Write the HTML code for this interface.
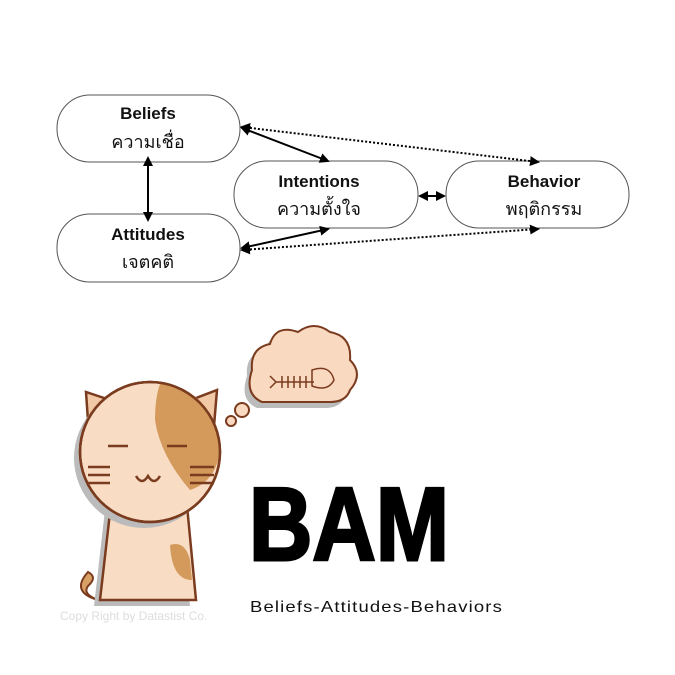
<!DOCTYPE html>
<html><head><meta charset="utf-8"><style>
html,body{margin:0;padding:0;background:#fff}
svg{display:block}
</style></head><body>
<svg width="675" height="675" viewBox="0 0 675 675" xmlns="http://www.w3.org/2000/svg" font-family="'Liberation Sans','Noto Sans CJK SC',sans-serif">
<defs>
<marker id="a" viewBox="0 0 10 10" refX="8" refY="5" markerWidth="5" markerHeight="5" orient="auto-start-reverse"><path d="M0,0 L10,5 L0,10 z" fill="#000"/></marker>
</defs>
<g fill="#fff" stroke="#555" stroke-width="1">
<rect x="57" y="95" width="183" height="67" rx="33"/>
<rect x="57" y="214" width="183" height="68" rx="33"/>
<rect x="234" y="161" width="184" height="67" rx="33"/>
<rect x="446" y="161" width="183" height="67" rx="33"/>
</g>
<g text-anchor="middle" fill="#111">
<text x="148" y="119" font-size="17" font-weight="bold">Beliefs</text>
<text x="148" y="148" font-size="18">ความเชื่อ</text>
<text x="148" y="240" font-size="17" font-weight="bold">Attitudes</text>
<text x="148" y="268" font-size="18">เจตคติ</text>
<text x="319" y="187" font-size="17" font-weight="bold">Intentions</text>
<text x="319" y="215" font-size="18">ความตั้งใจ</text>
<text x="544" y="187" font-size="17" font-weight="bold">Behavior</text>
<text x="544" y="215" font-size="18">พฤติกรรม</text>
</g>
<g stroke="#000" stroke-width="2" fill="none">
<line x1="148" y1="158" x2="148" y2="220" marker-start="url(#a)" marker-end="url(#a)"/>
<line x1="242" y1="128" x2="328" y2="161" marker-start="url(#a)" marker-end="url(#a)"/>
<line x1="242" y1="248" x2="328" y2="229" marker-start="url(#a)" marker-end="url(#a)"/>
<line x1="420" y1="196" x2="444" y2="196" marker-start="url(#a)" marker-end="url(#a)"/>
<line x1="242" y1="127" x2="538" y2="162" stroke-dasharray="2,2" marker-start="url(#a)" marker-end="url(#a)"/>
<line x1="242" y1="250" x2="538" y2="229" stroke-dasharray="2,2" marker-start="url(#a)" marker-end="url(#a)"/>
</g>
<!-- thought cloud -->
<g>
<path d="M262,402 q-18,-8 -10,-32 q-2,-22 18,-26 q6,-20 28,-12 q16,-12 32,0 q22,4 20,28 q14,14 0,30 q-4,12 -20,12 z" fill="#bbb" transform="translate(-5,6)"/>
<path d="M262,402 q-18,-8 -10,-32 q-2,-22 18,-26 q6,-20 28,-12 q16,-12 32,0 q22,4 20,28 q14,14 0,30 q-4,12 -20,12 z" fill="#fad9c1" stroke="#7a3b1e" stroke-width="2"/>
<circle cx="242" cy="410" r="7" fill="#fad9c1" stroke="#7a3b1e" stroke-width="2"/>
<circle cx="231" cy="421" r="5" fill="#fad9c1" stroke="#7a3b1e" stroke-width="2"/>
<path d="M270,388 l6,-6 l-6,-6 M276,382 h38 M282,376 v12 M288,376 v12 M294,376 v12 M300,376 v12 M306,376 v12" stroke="#7a3b1e" stroke-width="1.5" fill="none"/>
<path d="M312,370 q18,-6 22,10 q-6,12 -22,6 z" fill="none" stroke="#7a3b1e" stroke-width="1.5"/>
</g>
<!-- cat -->
<g stroke="#7a3b1e" stroke-width="2.5">
<path d="M98,600 q-28,-8 -10,-28 q10,5 0,14 q-6,8 10,14" fill="#d9a066" stroke-width="2"/>
<path d="M112,495 L100,600 L196,600 L186,495 z" fill="#bbb" transform="translate(-6,6)" stroke="none"/>
<path d="M112,495 L100,600 L196,600 L186,495 z" fill="#f8dcc4"/>
<path d="M170,545 q15,-5 20,15 l2,20 q-20,0 -22,-35z" fill="#d39a5c" stroke="none"/>
<path d="M86,392 L90,450 L125,405 z" fill="#f2c9a6"/>
<path d="M217,390 L212,450 L178,405 z" fill="#f2c9a6"/>
<circle cx="150" cy="452" r="70" fill="#bbb" stroke="none" transform="translate(-6,6)"/>
<circle cx="150" cy="452" r="70" fill="#f8dcc4"/>
<path d="M160,384 q55,5 60,68 q-5,30 -30,38 q-30,-35 -35,-70 q0,-22 5,-36z" fill="#d39a5c" stroke="none"/>
<circle cx="150" cy="452" r="70" fill="none"/>
<line x1="108" y1="446" x2="128" y2="446"/>
<line x1="167" y1="446" x2="187" y2="446"/>
<path d="M136,476 q6,10 12,0 q6,10 12,0" fill="none"/>
<path d="M88,467 h22 M88,475 h22 M88,483 h22 M190,467 h24 M190,475 h24 M190,483 h24"/>
</g>
<text x="60" y="620" font-size="12" fill="#ddd">Copy Right by Datastist Co.</text>
<text x="249" y="560" font-size="104" font-weight="bold" fill="#000" stroke="#000" stroke-width="3" textLength="200" lengthAdjust="spacingAndGlyphs">BAM</text>
<text x="250" y="612" font-size="16" fill="#111" letter-spacing="1" textLength="253" lengthAdjust="spacingAndGlyphs">Beliefs-Attitudes-Behaviors</text>
</svg>
</body></html>
